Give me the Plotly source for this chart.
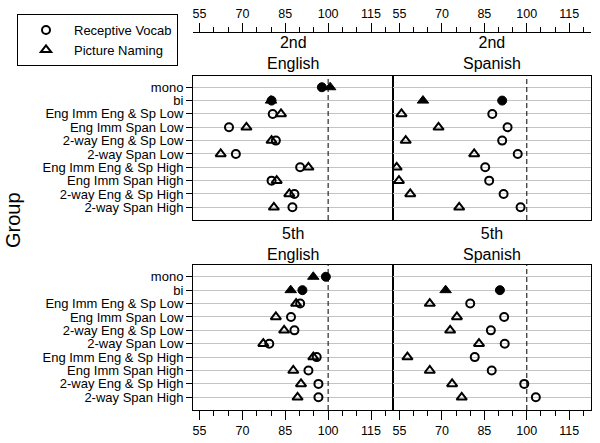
import plotly.graph_objects as go

groups = ["mono", "bi", "Eng Imm Eng & Sp Low", "Eng Imm Span Low", "2-way Eng & Sp Low",
          "2-way Span Low", "Eng Imm Eng & Sp High", "Eng Imm Span High",
          "2-way Eng & Sp High", "2-way Span High"]
filled_groups = ["mono", "bi"]

g2_eng_vocab = [97.8, 80.2, 80.6, 65.3, 81.7, 67.7, 90.2, 80.2, 88.2, 87.5]
g2_eng_naming = [100.7, 80.0, 83.5, 71.4, 80.2, 62.4, 93.1, 82.0, 86.4, 81.0]
g2_spa_vocab = [None, 91.3, 87.8, 93.2, 91.3, 96.8, 85.3, 86.7, 91.8, 97.8]
g2_spa_naming = [None, 63.3, 55.7, 68.8, 57.2, 81.4, 54.0, 54.8, 58.8, 76.1]
g5_eng_vocab = [99.2, 91.0, 90.2, 87.0, 88.2, 79.4, 96.0, 93.1, 96.6, 96.6]
g5_eng_naming = [94.8, 86.9, 88.8, 81.7, 84.6, 77.3, 94.8, 87.8, 90.5, 89.3]
g5_spa_vocab = [None, 90.5, 80.0, 92.0, 87.3, 92.2, 81.6, 87.6, 99.1, 103.2]
g5_spa_naming = [None, 71.3, 65.7, 75.3, 72.9, 83.1, 57.8, 65.7, 73.6, 77.0]

tick_values = [55, 70, 85, 100, 115]
ref_value = 100
x_range = [52.7, 122.7]

panels = [
    ("x", "y", "2nd<br>English", g2_eng_vocab, g2_eng_naming),
    ("x2", "y2", "2nd<br>Spanish", g2_spa_vocab, g2_spa_naming),
    ("x3", "y3", "5th<br>English", g5_eng_vocab, g5_eng_naming),
    ("x4", "y4", "5th<br>Spanish", g5_spa_vocab, g5_spa_naming),
]

FONT = "Liberation Sans, Arial, Helvetica, sans-serif"
fig = go.Figure()

measures = [("Receptive Vocab", "circle", 8), ("Picture Naming", "triangle-up", 9)]

for pi, (xa, ya, title, vocab, naming) in enumerate(panels):
    for (name, sym, size), vals in zip(measures, [vocab, naming]):
        open_x = [v for g, v in zip(groups, vals) if g not in filled_groups and v is not None]
        open_y = [g for g, v in zip(groups, vals) if g not in filled_groups and v is not None]
        fill_x = [v for g, v in zip(groups, vals) if g in filled_groups and v is not None]
        fill_y = [g for g, v in zip(groups, vals) if g in filled_groups and v is not None]
        fig.add_trace(go.Scatter(
            x=open_x, y=open_y, mode="markers", name=name, legendgroup=name,
            showlegend=(pi == 0), xaxis=xa, yaxis=ya,
            marker=dict(symbol=sym + "-open", size=size, color="black",
                        line=dict(color="black", width=2))))
        if fill_x:
            fig.add_trace(go.Scatter(
                x=fill_x, y=fill_y, mode="markers", name=name, legendgroup=name,
                showlegend=False, xaxis=xa, yaxis=ya,
                marker=dict(symbol=sym, size=size + 1, color="black",
                            line=dict(color="black", width=1))))

# empty traces so that the free top axes get drawn
for xa, ya in [("x5", "y"), ("x6", "y2")]:
    fig.add_trace(go.Scatter(x=[None], y=[None], xaxis=xa, yaxis=ya, mode="markers",
                             showlegend=False, hoverinfo="skip"))

xdom = [[193 / 600, 393 / 600], [393 / 600, 591 / 600]]
ydom = [[1 - 220 / 443, 1 - 75.5 / 443], [1 - 410 / 443, 1 - 265 / 443]]
yrange = [9.95, -0.88]

minor = dict(tick0=50, dtick=5, ticks="outside", ticklen=5, tickcolor="black", showgrid=False)
tickfont = dict(family=FONT, size=12.5, color="black")

layout = dict(
    template="none", width=600, height=443,
    margin=dict(l=0, r=0, t=0, b=0),
    paper_bgcolor="white", plot_bgcolor="white",
    font=dict(family=FONT, color="black"),
    showlegend=True,
    legend=dict(x=17 / 600, y=1 - 14 / 443, xanchor="left", yanchor="top",
                bordercolor="black", borderwidth=1, bgcolor="white",
                font=dict(family=FONT, size=13, color="black"),
                itemwidth=46, tracegroupgap=0),
)

for i in range(4):
    row, col = divmod(i, 2)
    suffix = "" if i == 0 else str(i + 1)
    bottom = row == 1
    layout["xaxis" + suffix] = dict(
        domain=xdom[col], anchor="y" + suffix, range=x_range,
        showline=True, mirror=True, linecolor="black", linewidth=1,
        showgrid=False, zeroline=False,
        tickvals=tick_values, ticks="outside" if bottom else "",
        ticklen=9, tickcolor="black", showticklabels=bottom, tickfont=tickfont,
        minor=minor if bottom else dict(ticks="", showgrid=False),
    )
    layout["yaxis" + suffix] = dict(
        domain=ydom[row], anchor="x" + suffix, type="category",
        categoryorder="array", categoryarray=groups, range=yrange,
        tickmode="array", tickvals=groups, ticktext=groups,
        showline=True, mirror=True, linecolor="black", linewidth=1,
        showgrid=True, gridcolor="#c4c4c4", gridwidth=1, zeroline=False,
        ticks="outside" if col == 0 else "", ticklen=6, tickcolor="black",
        showticklabels=(col == 0),
        tickfont=dict(family=FONT, size=13, color="black"),
    )

for k, base in [(5, "x"), (6, "x2")]:
    layout["xaxis%d" % k] = dict(
        overlaying=base, anchor="free", position=1 - 32 / 443, side="top",
        range=x_range, showline=True, linecolor="black", linewidth=1,
        showgrid=False, zeroline=False, tickvals=tick_values, ticks="outside",
        ticklen=9, tickcolor="black", tickfont=tickfont, minor=minor,
    )

fig.update_layout(**layout)

annotations = []
strip_y = [1 - 53 / 443, 1 - 244 / 443]
for i, (xa, ya, title, vocab, naming) in enumerate(panels):
    row, col = divmod(i, 2)
    annotations.append(dict(
        text=title, x=(xdom[col][0] + xdom[col][1]) / 2, y=strip_y[row],
        xref="paper", yref="paper", showarrow=False, xanchor="center", yanchor="middle",
        font=dict(family=FONT, size=16, color="black")))
    fig.add_shape(type="line", xref=xa, yref=ya + " domain", x0=ref_value, x1=ref_value,
                  y0=0, y1=1, line=dict(color="black", width=1, dash="5px,3px"))
annotations.append(dict(
    text="Group", x=13 / 600, y=1 - 220 / 443, xref="paper", yref="paper",
    showarrow=False, textangle=-90, xanchor="center", yanchor="middle",
    font=dict(family=FONT, size=20, color="black")))
fig.update_layout(annotations=annotations)

fig.write_html("out.html", config={"displayModeBar": False},
               post_script="document.body.style.margin='0';")
